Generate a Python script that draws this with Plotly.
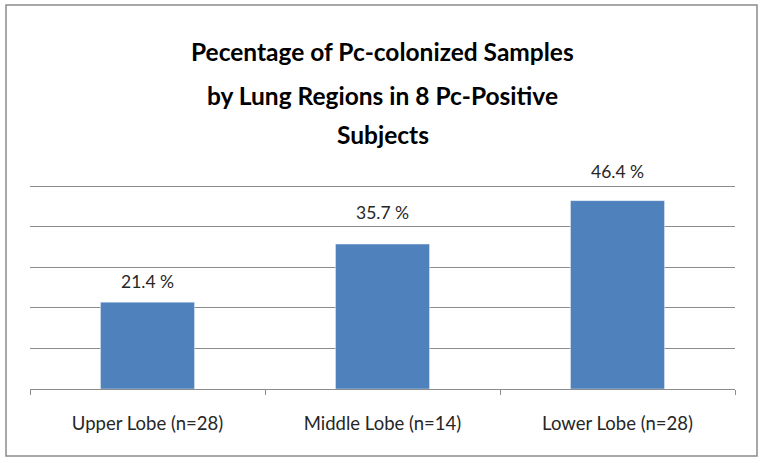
import plotly.graph_objects as go

categories = ["Upper Lobe (n=28)", "Middle Lobe (n=14)", "Lower Lobe (n=28)"]
values = [21.4, 35.7, 46.4]
title_lines = ["Pecentage of Pc-colonized Samples", "by Lung Regions in 8 Pc-Positive", "Subjects"]

# style: vertical pixel offsets of the data labels above their bars
label_shifts = [8, 19, 17]

fig = go.Figure(go.Bar(x=categories, y=values, width=0.4, marker_color="#4F81BD",
                       hoverinfo="skip"))

annotations = []
for c, v, s in zip(categories, values, label_shifts):
    annotations.append(dict(x=c, y=v, xref="x", yref="y", text=f"{v:.1f} %", showarrow=False,
                            yanchor="bottom", yshift=s,
                            font=dict(family="Lato", size=17.5, color="#262626")))
title_y = [51, 95, 134]
for line, py in zip(title_lines, title_y):
    annotations.append(dict(x=0.5, xref="paper", y=(389 - py) / 205, yref="paper", text=f"<b>{line}</b>",
                            showarrow=False, yanchor="middle", xanchor="center",
                            font=dict(family="Lato", size=24.5, color="#000000")))

fig.update_layout(
    width=764, height=463,
    margin=dict(l=30, r=29, t=184, b=74),
    paper_bgcolor="white", plot_bgcolor="white",
    showlegend=False,
    annotations=annotations,
    shapes=[dict(type="rect", xref="paper", yref="paper",
                 x0=(6 - 30) / 705, x1=(757 - 30) / 705,
                 y0=(389 - 456) / 205, y1=(389 - 5) / 205,
                 line=dict(color="#8C8C8C", width=1.5), fillcolor="rgba(0,0,0,0)", layer="below")],
    xaxis=dict(showline=True, linecolor="#8C8C8C", linewidth=1, ticks="outside", tickson="boundaries",
               ticklen=5, tickcolor="#8C8C8C", tickfont=dict(family="Lato", size=18.5, color="#262626"),
               ticklabelstandoff=18, showgrid=False),
    yaxis=dict(range=[0, 50.5], tickvals=[10, 20, 30, 40, 50], showticklabels=False, showgrid=True,
               gridcolor="#8C8C8C", gridwidth=1, zeroline=False, ticks=""),
)
fig.write_html("out.html", config={"displayModeBar": False},
               post_script="document.body.style.margin='0';document.body.style.padding='0';")
